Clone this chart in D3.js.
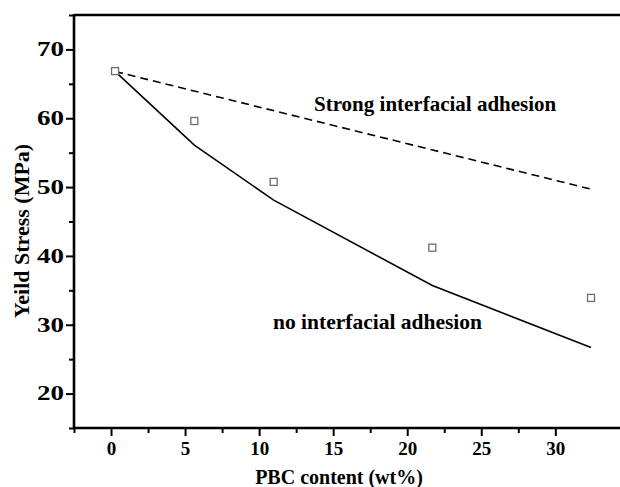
<!DOCTYPE html>
<html><head><meta charset="utf-8">
<script src="https://cdn.jsdelivr.net/npm/d3@7"></script>
<style>
html,body{margin:0;padding:0;background:#fff;}
svg{display:block;}
svg text{font-family:"Liberation Serif","Times New Roman",Times,"Nimbus Roman","DejaVu Serif",serif !important;font-weight:bold;}
</style></head>
<body><svg id="chart" width="620" height="487"></svg>
<script>
// ---- data ----
const pbc = [0, 5, 10, 20, 30];                       // PBC content (wt%)
const measured = [66.85, 59.6, 50.75, 41.2, 33.9];    // squares
const noAdhesion = [66.8, 56.1, 48.1, 35.7, 26.7];    // solid line
const strongAdhesion = [66.8, 49.7];                  // dashed line (at 0 and 30)
const strongX = [0, 30];
const xTicks = [0, 5, 10, 15, 20, 25, 30];
const xMinor = [-2.5, 2.5, 7.5, 12.5, 17.5, 22.5, 27.5];
const yTicks = [20, 30, 40, 50, 60, 70];
const yMinor = [15, 25, 35, 45, 55, 65, 75];
// In the picture the data sit on a slightly wider x span than the tick marks:
// x=0 plotted at axis value 0.27, x=30 plotted at axis value 32.41
const dataSpan = [0.27, 32.41];

const svg = d3.select("#chart");
const mLeft = 74, mTop = 15, mBottom = 428;
const x = d3.scaleLinear().domain([-2.5, 35]).range([mLeft, mLeft + 37.5 * 14.81]);
const y = d3.scaleLinear().domain([15, 75]).range([mBottom, mTop]);
const xData = d3.scaleLinear().domain([0, 30]).range([x(dataSpan[0]), x(dataSpan[1])]);

// frame: top line
svg.append("line").attr("x1", mLeft).attr("x2", 640).attr("y1", mTop).attr("y2", mTop)
  .attr("stroke", "#000").attr("stroke-width", 2.6);

// x axis
const gx = svg.append("g").attr("transform", `translate(0,${mBottom})`);
gx.call(d3.axisBottom(x).tickValues(xTicks).tickSize(8).tickPadding(6).tickFormat(d3.format("d")));
gx.append("g").call(d3.axisBottom(x).tickValues(xMinor).tickSize(5).tickFormat(""));
gx.selectAll(".domain").remove();
gx.append("line").attr("x1", mLeft - 1).attr("x2", 640).attr("stroke", "#000").attr("stroke-width", 2.6);
gx.selectAll(".tick line").attr("stroke", "#000").attr("stroke-width", 2);
gx.selectAll(".tick text").attr("font-size", 19).attr("fill", "#000").attr("dy", "0.7em");

// y axis
const gy = svg.append("g").attr("transform", `translate(${mLeft},0)`);
gy.call(d3.axisLeft(y).tickValues(yTicks).tickSize(8).tickPadding(4).tickFormat(d3.format("d")));
gy.append("g").call(d3.axisLeft(y).tickValues(yMinor).tickSize(5).tickFormat(""));
gy.selectAll(".domain").remove();
gy.append("line").attr("y1", mTop - 1).attr("y2", mBottom + 1).attr("stroke", "#000").attr("stroke-width", 2.6);
gy.selectAll(".tick line").attr("stroke", "#000").attr("stroke-width", 2);
gy.selectAll(".tick text").attr("font-size", 20).attr("fill", "#000")
  .attr("transform", "scale(1.35,1)").attr("x", -10 / 1.35);

// axis titles
svg.append("text").attr("x", 339).attr("y", 484).attr("text-anchor", "middle")
  .attr("font-size", 20).text("PBC content (wt%)");
svg.append("text").attr("transform", "translate(29,231) rotate(-90)").attr("text-anchor", "middle")
  .attr("font-size", 22).text("Yeild Stress (MPa)");

// dashed line: strong interfacial adhesion
svg.append("path")
  .datum(strongX.map((v, i) => [v, strongAdhesion[i]]))
  .attr("d", d3.line().x(d => xData(d[0])).y(d => y(d[1])))
  .attr("fill", "none").attr("stroke", "#000").attr("stroke-width", 1.6)
  .attr("stroke-dasharray", "8,5");

// solid line: no interfacial adhesion
svg.append("path")
  .datum(pbc.map((v, i) => [v, noAdhesion[i]]))
  .attr("d", d3.line().x(d => xData(d[0])).y(d => y(d[1])))
  .attr("fill", "none").attr("stroke", "#000").attr("stroke-width", 1.6);

// measured points
svg.append("g").selectAll("rect").data(pbc.map((v, i) => [v, measured[i]])).join("rect")
  .attr("x", d => xData(d[0]) - 3.5).attr("y", d => y(d[1]) - 3.5)
  .attr("width", 7).attr("height", 7)
  .attr("fill", "#fff").attr("stroke", "#6e6e6e").attr("stroke-width", 1.3);

// annotations
svg.append("text").attr("x", 314).attr("y", 111).attr("font-size", 21).text("Strong interfacial adhesion");
svg.append("text").attr("x", 273).attr("y", 329).attr("font-size", 21.5).text("no interfacial adhesion");
</script></body></html>
